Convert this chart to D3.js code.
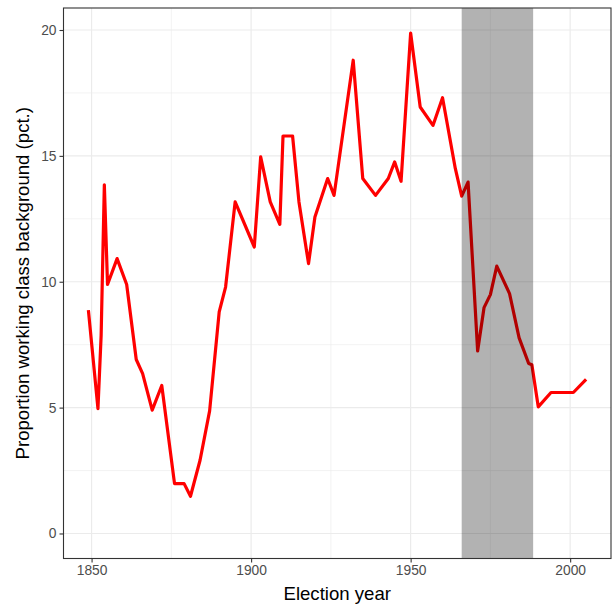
<!DOCTYPE html>
<html lang="en">
<head>
<meta charset="utf-8">
<title>Working class background</title>
<script src="https://cdnjs.cloudflare.com/ajax/libs/d3/7.8.5/d3.min.js"></script>
<style>
  body { margin: 0; background: #fff; }
  svg text { font-family: "Liberation Sans", Arial, Helvetica, sans-serif; }
</style>
</head>
<body>
<svg id="chart" width="614" height="606"></svg>
<script>
// election years and share with working class background (pct.)
var years = [1849, 1852, 1853, 1854, 1855, 1858, 1861, 1864, 1866, 1869, 1872, 1876, 1879, 1881,
  1884, 1887, 1890, 1892, 1895, 1901, 1903, 1906, 1909, 1910, 1913, 1915, 1918, 1920, 1924, 1926,
  1932, 1935, 1939, 1943, 1945, 1947, 1950, 1953, 1957, 1960, 1964, 1966, 1968, 1971, 1973, 1975,
  1977, 1981, 1984, 1987, 1988, 1990, 1994, 2001, 2005];
var share = [8.87, 4.96, 7.88, 13.85, 9.89, 10.92, 9.89, 6.91, 6.35, 4.9, 5.88, 1.98, 1.98, 1.48,
  2.91, 4.87, 8.8, 9.79, 13.17, 11.38, 14.96, 13.17, 12.28, 15.79, 15.79, 13.17, 10.72, 12.57, 14.1, 13.43,
  18.8, 14.1, 13.43, 14.1, 14.76, 13.99, 19.88, 16.94, 16.21, 17.31, 14.5, 13.4, 13.96, 7.25, 8.97, 9.49,
  10.62, 9.53, 7.77, 6.75, 6.7, 5.03, 5.6, 5.6, 6.12];
var shadedPeriod = [1966, 1988.4];
var xTicks = [1850, 1900, 1950, 2000];
var xMinor = [1875, 1925, 1975];
var yTicks = [0, 5, 10, 15, 20];
var yMinor = [2.5, 7.5, 12.5, 17.5];

var margin = {top: 8, right: 3, bottom: 47.5, left: 63.5};
var W = 614, H = 606;
var w = W - margin.left - margin.right, h = H - margin.top - margin.bottom;

var data = years.map(function(y, i) { return {year: y, v: share[i]}; });

// ggplot style 5% expansion
var xr = d3.extent(years), xpad = (xr[1] - xr[0]) * 0.05;
var yMax = d3.max(share), ypad = yMax * 0.05;
var x = d3.scaleLinear().domain([xr[0] - xpad, xr[1] + xpad]).range([0, w]);
var y = d3.scaleLinear().domain([0 - ypad, yMax + ypad]).range([h, 0]);

var svg = d3.select("#chart");
var g = svg.append("g").attr("transform", "translate(" + margin.left + "," + margin.top + ")");

// grid
g.selectAll("line.xminor").data(xMinor).enter().append("line")
  .attr("x1", d => x(d)).attr("x2", d => x(d)).attr("y1", 0).attr("y2", h)
  .attr("stroke", "#ebebeb").attr("stroke-width", 0.6);
g.selectAll("line.yminor").data(yMinor).enter().append("line")
  .attr("y1", d => y(d)).attr("y2", d => y(d)).attr("x1", 0).attr("x2", w)
  .attr("stroke", "#ebebeb").attr("stroke-width", 0.6);
g.selectAll("line.xmajor").data(xTicks).enter().append("line")
  .attr("x1", d => x(d)).attr("x2", d => x(d)).attr("y1", 0).attr("y2", h)
  .attr("stroke", "#ebebeb").attr("stroke-width", 1.2);
g.selectAll("line.ymajor").data(yTicks).enter().append("line")
  .attr("y1", d => y(d)).attr("y2", d => y(d)).attr("x1", 0).attr("x2", w)
  .attr("stroke", "#ebebeb").attr("stroke-width", 1.2);

// line
var line = d3.line().x(d => x(d.year)).y(d => y(d.v));
g.append("path").datum(data)
  .attr("d", line)
  .attr("fill", "none")
  .attr("stroke", "#ff0000")
  .attr("stroke-width", 3.2)
  .attr("stroke-linejoin", "round");

// shaded period on top
g.append("rect")
  .attr("x", x(shadedPeriod[0]))
  .attr("width", x(shadedPeriod[1]) - x(shadedPeriod[0]))
  .attr("y", 0).attr("height", h)
  .attr("fill", "#000").attr("fill-opacity", 0.3);

// panel border
g.append("rect").attr("width", w).attr("height", h)
  .attr("fill", "none").attr("stroke", "#333333").attr("stroke-width", 1.1);

// axes
var xAxis = g.append("g").attr("transform", "translate(0," + h + ")")
  .call(d3.axisBottom(x).tickValues(xTicks).tickFormat(d3.format("d")).tickSize(4).tickPadding(3));
var yAxis = g.append("g")
  .call(d3.axisLeft(y).tickValues(yTicks).tickSize(4).tickPadding(3));
[xAxis, yAxis].forEach(function(a) {
  a.select(".domain").remove();
  a.selectAll(".tick line").attr("stroke", "#333333").attr("stroke-width", 1.1);
  a.selectAll(".tick text").attr("fill", "#4d4d4d").style("font-size", "13.8px");
});

svg.append("text")
  .attr("x", margin.left + w / 2).attr("y", 600)
  .attr("text-anchor", "middle")
  .style("font-size", "18.6px").attr("fill", "#000")
  .text("Election year");

svg.append("text")
  .attr("transform", "translate(29," + (margin.top + h / 2) + ") rotate(-90)")
  .attr("text-anchor", "middle")
  .style("font-size", "18.6px").attr("fill", "#000")
  .text("Proportion working class background (pct.)");
</script>
</body>
</html>
